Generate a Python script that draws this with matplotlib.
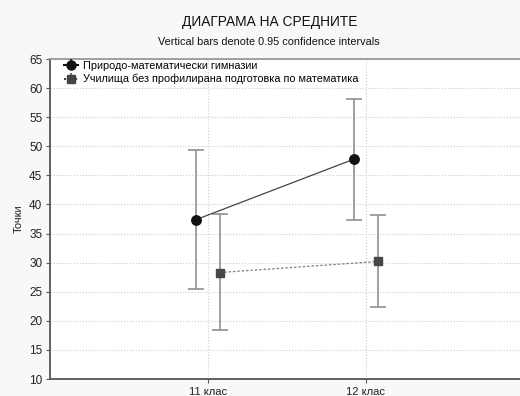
import matplotlib
matplotlib.use("Agg")
import matplotlib.pyplot as plt
import numpy as np

plt.rcParams['font.family'] = ['Liberation Sans', 'DejaVu Sans']

categories = ["11 клас", "12 клас"]
series_names = ["Природо-математически гимназии",
                "Училища без профилирана подготовка по математика"]
means_pm = [37.4, 47.8]
low_pm = [25.5, 37.4]
high_pm = [49.3, 58.1]
means_other = [28.3, 30.2]
low_other = [18.4, 22.3]
high_other = [38.3, 38.2]
yticks = [10, 15, 20, 25, 30, 35, 40, 45, 50, 55, 60, 65]

W, H = 520, 396
fig = plt.figure(figsize=(W / 100, H / 100), dpi=100, facecolor='#f8f8f8')
ax = fig.add_axes([50 / W, (H - 379) / H, 474 / W, 320 / H])
ax.set_facecolor('white')

x = np.arange(1, len(categories) + 1)
off = 0.075

def draw(xpos, means, low, high, marker, mcolor, ls, lcolor, ms):
    means = np.array(means); low = np.array(low); high = np.array(high)
    yerr = [means - low, high - means]
    ax.errorbar(xpos, means, yerr=yerr, fmt='none', ecolor='#909090',
                elinewidth=1.2, capsize=5.8, capthick=1.2, zorder=2)
    ax.plot(xpos, means, linestyle=ls, color=lcolor, linewidth=0.9, zorder=3)
    ax.plot(xpos, means, linestyle='none', marker=marker, color=mcolor,
            markersize=ms, zorder=4)

draw(x - off, means_pm, low_pm, high_pm, 'o', '#111111', '-', '#444444', 6.8)
draw(x + off, means_other, low_other, high_other, 's', '#474747', (0, (2, 1.5)),
     '#808080', 6.0)

h1 = ax.errorbar([], [], yerr=[], fmt='o', color='#111111', ecolor='#333333',
                 markersize=6.5, capsize=4, linestyle='-')
h2 = ax.errorbar([], [], yerr=[], fmt='s', color='#444444', ecolor='#777777',
                 markersize=6, capsize=4, linestyle=':')
leg = ax.legend([h1, h2], series_names, loc='upper left', frameon=False,
                fontsize=7.8, handlelength=1.3, handletextpad=0.5,
                borderaxespad=0.2, labelspacing=0.3,
                bbox_to_anchor=(0.015, 1.015))

ax.set_xlim(0, 3)
ax.set_ylim(10, 65)
ax.set_xticks(x)
ax.set_xticklabels(categories, fontsize=8, color='#222222')
ax.set_yticks(yticks)
ax.set_yticklabels([str(v) for v in yticks], fontsize=8.5, color='#222222')
ax.tick_params(axis='both', direction='out', length=3, width=0.8, color='#555555', pad=2.5)
ax.grid(True, linestyle=':', color='#cccccc', linewidth=0.8)
ax.set_axisbelow(True)

for s in ['left', 'bottom']:
    ax.spines[s].set_color('#555555')
    ax.spines[s].set_linewidth(1.3)
ax.spines['top'].set_color('#999999')
ax.spines['top'].set_linewidth(1.3)
ax.spines['right'].set_visible(False)

ax.set_ylabel("Точки", fontsize=8, color='#222222', labelpad=4)

fig.text(270 / W, 1 - 22 / H, "ДИАГРАМА НА СРЕДНИТЕ", ha='center', va='center',
         fontsize=9.9, color='#111111')
fig.text(269 / W, 1 - 42 / H, "Vertical bars denote 0.95 confidence intervals",
         ha='center', va='center', fontsize=7.8, color='#111111')

fig.savefig("out.png", dpi=100, facecolor=fig.get_facecolor())
